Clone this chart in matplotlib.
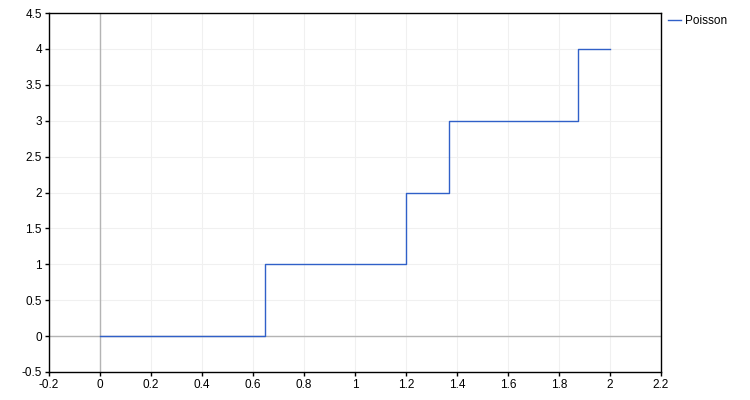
import matplotlib
matplotlib.use("Agg")
import matplotlib.pyplot as plt

plt.rcParams['font.family'] = ['Liberation Sans', 'DejaVu Sans']

# event times and counts of the Poisson process
times = [0.0, 0.647, 1.2, 1.369, 1.875, 2.0]
counts = [0, 1, 2, 3, 4, 4]

x_ticks = [-0.2, 0, 0.2, 0.4, 0.6, 0.8, 1, 1.2, 1.4, 1.6, 1.8, 2, 2.2]
y_ticks = [-0.5, 0, 0.5, 1, 1.5, 2, 2.5, 3, 3.5, 4, 4.5]

fig = plt.figure(figsize=(7.5, 4), dpi=100)
ax = fig.add_axes([0.0653, 0.07, 0.816, 0.8975])

ax.axhline(0, color='#b4b4b4', lw=1, zorder=2)
ax.axvline(0, color='#b4b4b4', lw=1, zorder=2)
line, = ax.step(times, counts, where='post', color='#3060c8', lw=1, zorder=3)

ax.set_xlim(-0.2, 2.2)
ax.set_ylim(-0.5, 4.5)
ax.set_xticks(x_ticks)
ax.set_xticklabels([f"{t:g}" for t in x_ticks])
ax.set_yticks(y_ticks)
ax.set_yticklabels([f"{t:g}" for t in y_ticks])
ax.tick_params(labelsize=8.5, length=3, width=1, colors='black', pad=2)
ax.grid(True, color='#f0f0f0', lw=0.8)
for s in ax.spines.values():
    s.set_linewidth(1)

fig.legend([line], ['Poisson'], loc='upper left', bbox_to_anchor=(0.885, 0.975),
           frameon=False, fontsize=8.5, handlelength=1.1, handletextpad=0.3,
           borderaxespad=0)

fig.savefig("out.png", dpi=100)
